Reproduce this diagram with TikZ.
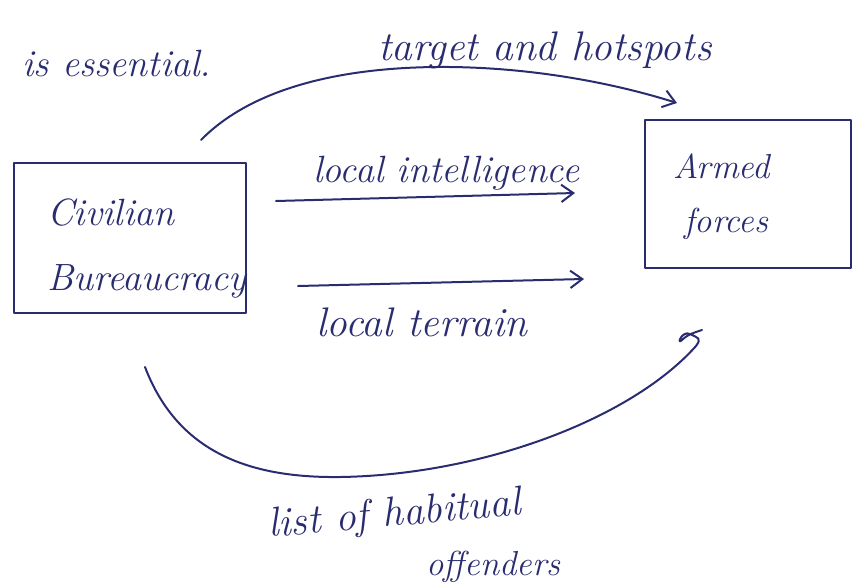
\documentclass[tikz,border=0pt]{standalone}
\usetikzlibrary{arrows.meta,calc}
\definecolor{ink}{RGB}{42,44,112}
\begin{document}
\begin{tikzpicture}[x=0.75pt,y=-0.75pt,
  pen/.style={draw=ink,line width=1.5pt,line cap=round,line join=round},
  hand/.style={text=ink,font=\fontsize{28.5}{32}\selectfont\itshape,inner sep=0pt},
  small/.style={font=\fontsize{26}{30}\selectfont\itshape},
  wide/.style={font=\fontsize{31}{34}\selectfont\itshape},
  box/.style={pen,rectangle,inner sep=0pt},
  barb/.style={-{Straight Barb[length=9pt,width=13pt,line width=1.5pt]}}
]
\useasboundingbox (0,0) rectangle (861,583);

% the two actors
\node[box,minimum width=174pt,minimum height=112.5pt] (civ) at (130,238) {};
\node[box,minimum width=154.5pt,minimum height=111pt] (arm) at (748,194) {};

\node[hand,anchor=base west] (civA) at (47,225) {Civilian};
\node[hand,anchor=base west] (civB) at (47,290) {Bureaucracy};
\node[hand,small,anchor=base west] (armA) at (673,178) {Armed};
\node[hand,small,anchor=base west] (armB) at (684,232) {forces};

% free text
\node[hand,anchor=base west] (ess) at (22,76) {is essential.};
\node[hand,wide,anchor=base west] (tgt) at (378,60) {target and hotspots};
\node[hand,anchor=base west] (intel) at (313,182) {local intelligence};
\node[hand,wide,anchor=base west] (terr) at (316,336) {local terrain};
\node[hand,wide,anchor=base west,rotate=5] (lst) at (269,537) {list of habitual};
\node[hand,small,anchor=base west] (offn) at (426,575) {offenders};

% flows from the bureaucracy to the forces
\draw[pen,barb] ($(civ.north east)+(-46,-22)$)
  .. controls +(50,-51) and (340,66) .. (450,67)
  .. controls (540,68) and (620,85) .. ($(arm.north west)+(33,-16)$);
\draw[pen,barb] ($(civ.east)+(29,-37)$) -- ($(arm.west)+(-69,-1)$);
\draw[pen,barb] ($(civ.east)+(51,48)$) -- ($(arm.west)+(-60,85)$);
\draw[pen] ($(civ.south west)+(132,53)$)
  .. controls +(34,89) and (255,478) .. (340,477)
  .. controls (480,475) and (630,420) .. ($(arm.south west)+(52,77)$)
  .. controls +(6,-8) and +(8,4) .. ++(-6,-12)
  .. controls +(-8,-4) and +(-6,6) .. ++(-8,6)
  .. controls +(6,-6) and +(-6,2) .. ++(20,-10);
\end{tikzpicture}
\end{document}
